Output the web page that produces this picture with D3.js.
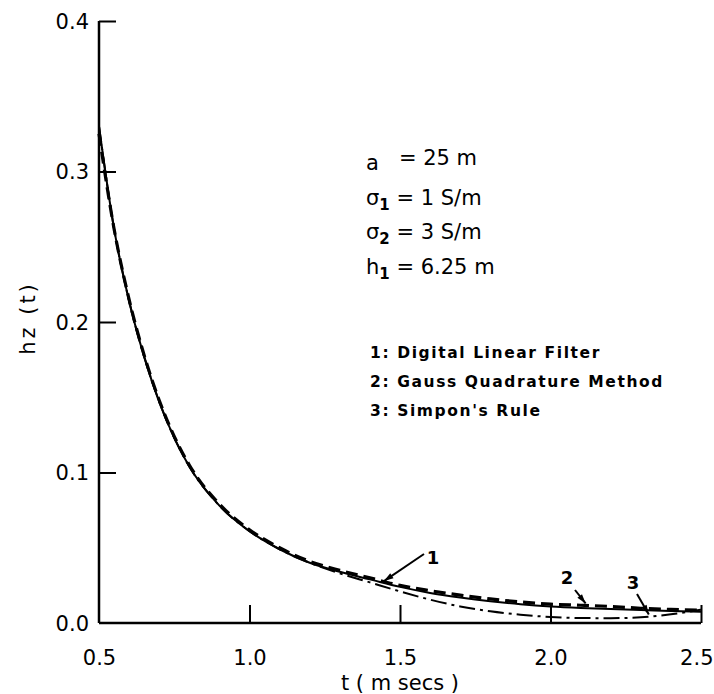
<!DOCTYPE html>
<html>
<head>
<meta charset="utf-8">
<script src="https://cdn.jsdelivr.net/npm/d3@7"></script>
<style>
  body { margin: 0; background: #fff; }
  text { font-family: "DejaVu Sans", sans-serif; fill: #000; }
</style>
</head>
<body>
<div id="chart"></div>
<script>
var tSolid = [0.5, 0.55, 0.6, 0.65, 0.7, 0.75, 0.8, 0.9, 1.0, 1.1, 1.2, 1.3, 1.4, 1.5, 1.6, 1.7, 1.8, 1.9, 2.0, 2.1, 2.2, 2.3, 2.4, 2.5];
var hSolid = [0.33, 0.262, 0.214, 0.177, 0.147, 0.123, 0.104, 0.078, 0.061, 0.049, 0.040, 0.034, 0.029, 0.024, 0.020, 0.017, 0.0145, 0.0125, 0.011, 0.010, 0.0093, 0.0087, 0.008, 0.0075];
var hGauss = [0.325, 0.262, 0.215, 0.178, 0.148, 0.124, 0.105, 0.079, 0.062, 0.050, 0.041, 0.035, 0.030, 0.025, 0.0215, 0.0185, 0.016, 0.014, 0.0125, 0.0118, 0.011, 0.0098, 0.009, 0.0085];
var hSimp  = [0.33, 0.262, 0.214, 0.177, 0.147, 0.123, 0.104, 0.078, 0.061, 0.049, 0.040, 0.033, 0.027, 0.021, 0.0155, 0.011, 0.0078, 0.0055, 0.004, 0.0033, 0.0032, 0.0038, 0.0058, 0.0088];

var xTicks = [0.5, 1.0, 1.5, 2.0, 2.5];
var yTicks = [0.0, 0.1, 0.2, 0.3, 0.4];

var params = [["a", "", "   = 25 m"], ["σ", "1", " = 1 S/m"], ["σ", "2", " = 3 S/m"], ["h", "1", " = 6.25 m"]];
var legend = ["1: Digital Linear Filter", "2: Gauss Quadrature Method", "3: Simpon's Rule"];

(function () {
    var width = 714,
        height = 694;

    var svg = d3.select("#chart")
        .append("svg")
        .attr("width", width)
        .attr("height", height);

    var x = d3.scaleLinear().domain([0.5, 2.5]).range([99, 701]);
    var y = d3.scaleLinear().domain([0, 0.4]).range([623, 21]);

    // axes, ticks point inward
    var xAxis = svg.append("g")
        .attr("transform", "translate(0," + y(0) + ")")
        .call(d3.axisBottom(x).tickValues(xTicks).tickSize(-18).tickPadding(27).tickFormat(d3.format(".1f")));
    var yAxis = svg.append("g")
        .attr("transform", "translate(" + x(0.5) + ",0)")
        .call(d3.axisLeft(y).tickValues(yTicks).tickSize(-17).tickPadding(10).tickFormat(d3.format(".1f")));

    [xAxis, yAxis].forEach(function (g) {
        g.attr("font-size", 21).attr("font-family", null);
        g.select(".domain").attr("stroke", "#000").attr("stroke-width", 2.5);
        g.selectAll(".tick line").attr("stroke", "#000").attr("stroke-width", 2);
        g.selectAll(".tick text").attr("fill", "#000");
    });
    // plain axis lines, no outer end ticks
    xAxis.select(".domain").attr("d", "M" + x(0.5) + ",0H" + x(2.5));
    yAxis.select(".domain").attr("d", "M0," + y(0) + "V" + y(0.4));
    xAxis.selectAll(".tick").filter(function (d) { return d === 0.5; }).select("line").remove();
    yAxis.selectAll(".tick").filter(function (d) { return d === 0; }).select("line").remove();
    xAxis.selectAll(".tick").filter(function (d) { return d === 2.5; }).select("text")
        .attr("text-anchor", "end").attr("x", 12);
    yAxis.selectAll(".tick text").attr("dy", "0.35em");

    var line = d3.line().curve(d3.curveMonotoneX);

    function pts(h) {
        return tSolid.map(function (t, i) { return [x(t), y(h[i])]; });
    }

    svg.append("path").attr("d", line(pts(hSimp)))
        .attr("fill", "none").attr("stroke", "#000").attr("stroke-width", 2)
        .attr("stroke-dasharray", "16,5,3,5");
    svg.append("path").attr("d", line(pts(hGauss)))
        .attr("fill", "none").attr("stroke", "#000").attr("stroke-width", 3.2)
        .attr("stroke-dasharray", "12,6");
    svg.append("path").attr("d", line(pts(hSolid)))
        .attr("fill", "none").attr("stroke", "#000").attr("stroke-width", 2);

    // curve labels with pointers
    var pointers = [
        { label: "1", lx: 433, ly: 564, x1: 424, y1: 554, t: 1.45, h: hSolid },
        { label: "2", lx: 567, ly: 584, x1: 575, y1: 590, t: 2.12, h: hGauss },
        { label: "3", lx: 633, ly: 589, x1: 637, y1: 594, t: 2.33, h: hSimp }
    ];
    pointers.forEach(function (p) {
        var hv = d3.scaleLinear().domain(tSolid).range(p.h)(p.t);
        var x2 = x(p.t) - 1, y2 = y(hv) - 2;
        svg.append("line").attr("x1", p.x1).attr("y1", p.y1).attr("x2", x2).attr("y2", y2)
            .attr("stroke", "#000").attr("stroke-width", 2);
        var a = Math.atan2(y2 - p.y1, x2 - p.x1);
        svg.append("path")
            .attr("d", "M" + x2 + "," + y2 +
                "L" + (x2 - 10 * Math.cos(a - 0.3)) + "," + (y2 - 10 * Math.sin(a - 0.3)) +
                "L" + (x2 - 10 * Math.cos(a + 0.3)) + "," + (y2 - 10 * Math.sin(a + 0.3)) + "Z")
            .attr("fill", "#000");
        svg.append("text").attr("x", p.lx).attr("y", p.ly)
            .attr("text-anchor", "middle").style("font-size", "18px").style("font-weight", "bold")
            .text(p.label);
    });

    // parameter block
    var pb = svg.append("g").selectAll("text")
        .data(params)
        .enter().append("text")
        .attr("x", 366)
        .attr("y", function (d, i) { return 170 + i * 34.5; })
        .attr("xml:space", "preserve")
        .style("font-size", "21px");
    pb.append("tspan").text(function (d) { return d[0]; });
    pb.append("tspan").attr("dy", 5).style("font-size", "15px").style("font-weight", "bold")
        .text(function (d) { return d[1]; });
    pb.append("tspan").attr("dy", -5)
        .text(function (d) { return d[2]; });

    svg.append("g").selectAll("text")
        .data(legend)
        .enter().append("text")
        .attr("x", 370)
        .attr("y", function (d, i) { return 358 + i * 29; })
        .style("font-size", "15.5px")
        .style("font-weight", "bold")
        .style("letter-spacing", "1.6px")
        .text(function (d) { return d; });

    svg.append("text")
        .attr("transform", "translate(35,318) rotate(-90)")
        .attr("text-anchor", "middle")
        .style("font-size", "21px")
        .style("letter-spacing", "3px")
        .text("hz (t)");

    svg.append("text")
        .attr("x", 400).attr("y", 690)
        .attr("text-anchor", "middle")
        .style("font-size", "21px")
        .attr("xml:space", "preserve")
        .text("t ( m secs )");
})();
</script>
</body>
</html>
